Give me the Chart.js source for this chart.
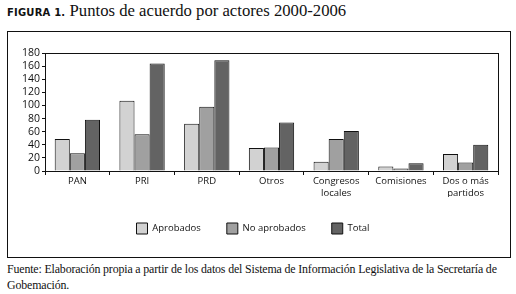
<!DOCTYPE html>
<html>
<head>
<meta charset="utf-8">
<script src="https://cdn.jsdelivr.net/npm/chart.js@4"></script>
<style>
  body { margin: 0; background: #fff; width: 516px; height: 294px; position: relative; overflow: hidden; }
  #title { position: absolute; left: 7px; top: 1px; font-family: "Liberation Serif", serif; font-size: 16.7px; color: #111; white-space: nowrap; }
  #title b { font-family: "DejaVu Sans", sans-serif; font-size: 10px; letter-spacing: 0.2px; }
  #box { position: absolute; left: 7px; top: 31px; width: 502px; height: 225px; border: 1px solid #111; }
  #box canvas { position: absolute; left: 0; top: 0; }
  #fuente { position: absolute; left: 7px; top: 261px; width: 510px; font-family: "Liberation Serif", serif; font-size: 11.9px; letter-spacing: -0.15px; line-height: 16px; color: #111; }
</style>
</head>
<body>
<div id="title"><b>FIGURA 1.</b> Puntos de acuerdo por actores 2000-2006</div>
<div id="box"><canvas id="actoresChart" width="502" height="225"></canvas></div>
<div id="fuente">Fuente: Elaboración propia a partir de los datos del Sistema de Información Legislativa de la Secretaría de<br>Gobemación.</div>
<script>
// categorias y valores
const categorias = ["PAN", "PRI", "PRD", "Otros", ["Congresos", "locales"], "Comisiones", ["Dos o más", "partidos"]];
const aprobados = [49, 107, 72, 35, 14, 7, 26];
const noAprobados = [27, 56, 98, 36, 49, 4, 13];
const total = [78, 164, 169, 74, 61, 12, 40];
const yTicks = [0, 20, 40, 60, 80, 100, 120, 140, 160, 180];

// marco del area de grafico
const marcoPlugin = {
  id: "marco",
  afterDraw(chart) {
    const a = chart.chartArea;
    const ctx = chart.ctx;
    ctx.save();
    ctx.strokeStyle = "#111";
    ctx.lineWidth = 1;
    ctx.strokeRect(Math.round(a.left) + 0.5, Math.round(a.top) + 0.5, Math.round(a.right - a.left), Math.round(a.bottom - a.top));
    ctx.restore();
  }
};

const fuente = { family: "'Open Sans', sans-serif", size: 9.5 };

const ctx = document.getElementById("actoresChart").getContext("2d");
new Chart(ctx, {
  type: "bar",
  data: {
    labels: categorias,
    datasets: [
      { label: "Aprobados", data: aprobados, backgroundColor: "#d2d2d2", borderColor: "#111", borderWidth: 1 },
      { label: "No aprobados", data: noAprobados, backgroundColor: "#a0a0a0", borderColor: "#111", borderWidth: 1 },
      { label: "Total", data: total, backgroundColor: "#636363", borderColor: "#111", borderWidth: 1 }
    ]
  },
  options: {
    responsive: false,
    animation: false,
    layout: { padding: { top: 21, right: 12, left: 0, bottom: 13 } },
    datasets: { bar: { categoryPercentage: 0.7, barPercentage: 1.0 } },
    plugins: {
      legend: {
        position: "bottom",
        labels: { boxWidth: 11, boxHeight: 11, padding: 26, color: "#111", font: fuente }
      },
      tooltip: { enabled: false }
    },
    scales: {
      x: {
        grid: { offset: true, drawOnChartArea: false, drawTicks: true, tickLength: 4, color: "#111" },
        border: { color: "#111" },
        ticks: { color: "#111", font: fuente, padding: 1, maxRotation: 0, autoSkip: false },
        afterFit(scale) { scale.height = 26; }
      },
      y: {
        min: 0,
        max: 180,
        afterBuildTicks(scale) { scale.ticks = yTicks.map(v => ({ value: v })); },
        grid: { drawOnChartArea: false, drawTicks: true, tickLength: 3, color: "#111" },
        border: { color: "#111" },
        ticks: { color: "#111", font: { family: "'Open Sans', sans-serif", size: 10.5 }, padding: 2, autoSkip: false },
        afterFit(scale) { scale.width = 37; }
      }
    }
  },
  plugins: [marcoPlugin]
});
</script>
</body>
</html>
